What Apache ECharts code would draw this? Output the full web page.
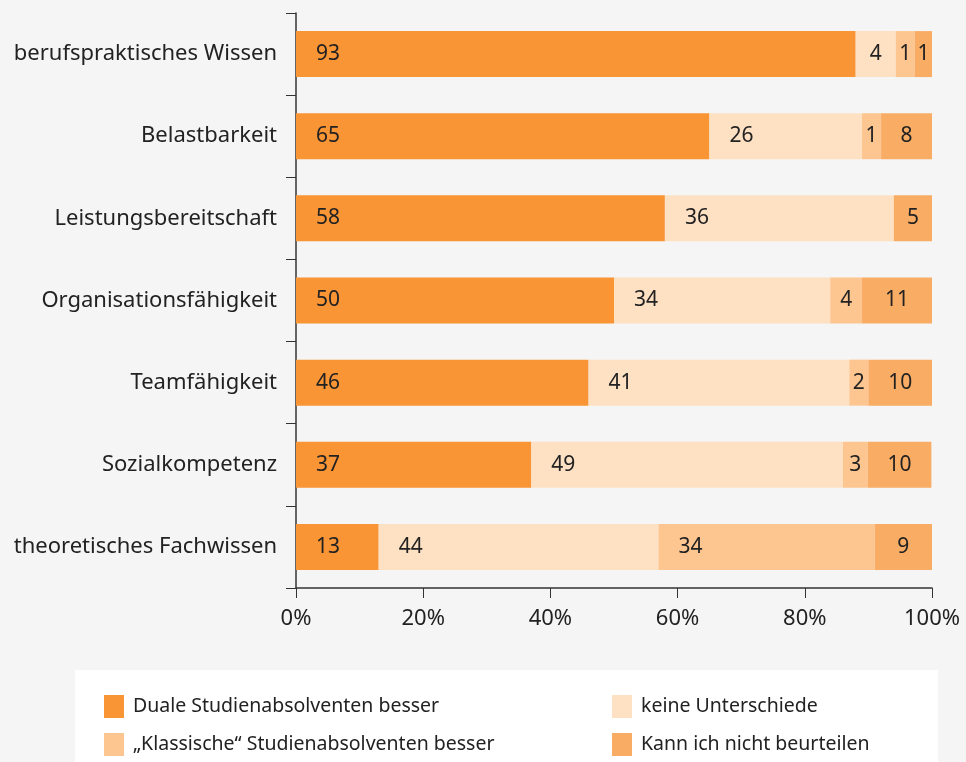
<!DOCTYPE html>
<html>
<head>
<meta charset="utf-8">
<script src="https://cdn.jsdelivr.net/npm/echarts@6/dist/echarts.min.js"></script>
<style>
  html, body { margin: 0; padding: 0; background: #f4f5f4; }
  #chart { width: 966px; height: 762px; }
</style>
</head>
<body>
<div id="chart"></div>
<script>
// Kategorien (von oben nach unten)
var categories = [
  'berufspraktisches Wissen',
  'Belastbarkeit',
  'Leistungsbereitschaft',
  'Organisationsfähigkeit',
  'Teamfähigkeit',
  'Sozialkompetenz',
  'theoretisches Fachwissen'
];

// Balkenbreiten wie im Bild (in %)
var dualeWidth      = [88, 65, 58, 50, 46, 37, 13];
var keineWidth      = [6.3, 24, 36, 34, 41, 49, 44];
var klassischeWidth = [3, 3, 0, 5, 3, 3.9, 34];
var kannWidth       = [2.7, 8, 6, 11, 10, 10, 9];

// gedruckte Zahlen
var dualeLabel      = ['93', '65', '58', '50', '46', '37', '13'];
var keineLabel      = ['4', '26', '36', '34', '41', '49', '44'];
var klassischeLabel = ['1', '1', '', '4', '2', '3', '34'];
var kannLabel       = ['1', '8', '5', '11', '10', '10', '9'];

var xTicks = [0, 20, 40, 60, 80, 100];

var FONT = 'Noto Sans';

function makeData(widths, labels, alwaysCenter) {
  return widths.map(function (w, i) {
    var centered = alwaysCenter || w < 10;
    return {
      value: w,
      label: {
        show: labels[i] !== '',
        formatter: labels[i],
        position: centered ? 'inside' : 'insideLeft',
        distance: centered ? 5 : 20
      }
    };
  });
}

function barSeries(name, color, widths, labels, alwaysCenter) {
  return {
    name: name,
    type: 'bar',
    stack: 'total',
    barWidth: 46,
    itemStyle: { color: color },
    label: { color: '#222', fontSize: 21, fontFamily: FONT },
    emphasis: { disabled: true },
    data: makeData(widths, labels, alwaysCenter)
  };
}

var chart = echarts.init(document.getElementById('chart'));
chart.setOption({
  backgroundColor: '#f4f5f4',
  animation: false,
  textStyle: { fontFamily: FONT },
  graphic: [{
    type: 'rect',
    shape: { x: 75, y: 670, width: 863, height: 100 },
    style: { fill: '#ffffff' },
    z: 0
  }],
  grid: { left: 296, right: 34, top: 13, bottom: 174 },
  legend: [{
    data: ['Duale Studienabsolventen besser', '„Klassische“ Studienabsolventen besser'],
    orient: 'vertical',
    left: 99, top: 690,
    itemWidth: 20, itemHeight: 23, itemGap: 15,
    icon: 'rect',
    textStyle: { fontSize: 19.5, color: '#222', fontFamily: FONT, padding: [0, 0, 0, 4] }
  }, {
    data: ['keine Unterschiede', 'Kann ich nicht beurteilen'],
    orient: 'vertical',
    left: 607, top: 690,
    itemWidth: 20, itemHeight: 23, itemGap: 15,
    icon: 'rect',
    textStyle: { fontSize: 19.5, color: '#222', fontFamily: FONT, padding: [0, 0, 0, 4] }
  }],
  xAxis: {
    type: 'value',
    min: 0, max: 100, interval: 20,
    axisLine: { show: true, lineStyle: { color: '#333', width: 1.5 } },
    axisTick: { show: true, length: 10, lineStyle: { color: '#333' } },
    splitLine: { show: false },
    axisLabel: {
      margin: 20, fontSize: 22, color: '#222', fontFamily: FONT,
      formatter: function (v) { return xTicks.indexOf(v) >= 0 ? v + '%' : ''; }
    }
  },
  yAxis: {
    type: 'category',
    inverse: true,
    data: categories,
    axisLine: { show: true, lineStyle: { color: '#333', width: 1.5 } },
    axisTick: { show: true, length: 10, lineStyle: { color: '#333' } },
    axisLabel: { margin: 19, fontSize: 22, color: '#222', fontFamily: FONT }
  },
  series: [
    barSeries('Duale Studienabsolventen besser', '#f99535', dualeWidth, dualeLabel, false),
    barSeries('keine Unterschiede', '#fee0c3', keineWidth, keineLabel, false),
    barSeries('„Klassische“ Studienabsolventen besser', '#fdc690', klassischeWidth, klassischeLabel, false),
    barSeries('Kann ich nicht beurteilen', '#f9ac64', kannWidth, kannLabel, true)
  ]
});
</script>
</body>
</html>
